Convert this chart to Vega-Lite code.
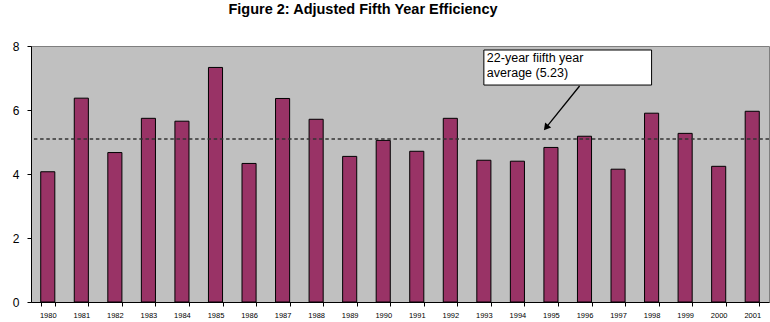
{
  "$schema": "https://vega.github.io/schema/vega-lite/v6.json",
  "autosize": "none",
  "width": 738,
  "height": 256,
  "padding": {"left": 31, "top": 46, "right": 1, "bottom": 20},
  "background": "white",
  "title": {
    "text": "Figure 2: Adjusted Fifth Year Efficiency",
    "font": "Liberation Sans",
    "fontSize": 14.5,
    "fontWeight": "bold",
    "color": "black",
    "anchor": "middle",
    "dx": -37,
    "offset": 23
  },
  "config": {
    "view": {"fill": "#C0C0C0", "stroke": "#7F7F7F", "strokeWidth": 1},
    "font": "Liberation Sans",
    "axisX": {
      "labelAngle": 0,
      "labelFontSize": 7.5,
      "labelColor": "black",
      "labelPadding": 5,
      "labelOverlap": false,
      "domainColor": "black",
      "tickColor": "black",
      "tickSize": 4,
      "tickBand": "extent",
      "grid": false
    },
    "axisY": {
      "grid": false,
      "tickCount": 8,
      "labelOverlap": false,
      "labelFontSize": 12,
      "labelColor": "black",
      "labelPadding": 8,
      "domainColor": "black",
      "tickColor": "black",
      "tickSize": 4
    }
  },
  "datasets": {
    "bars": [
      {"year": "1980", "value": 4.07},
      {"year": "1981", "value": 6.37},
      {"year": "1982", "value": 4.67},
      {"year": "1983", "value": 5.74},
      {"year": "1984", "value": 5.65},
      {"year": "1985", "value": 7.33},
      {"year": "1986", "value": 4.33},
      {"year": "1987", "value": 6.36},
      {"year": "1988", "value": 5.71},
      {"year": "1989", "value": 4.55},
      {"year": "1990", "value": 5.05},
      {"year": "1991", "value": 4.71},
      {"year": "1992", "value": 5.74},
      {"year": "1993", "value": 4.43},
      {"year": "1994", "value": 4.4},
      {"year": "1995", "value": 4.83},
      {"year": "1996", "value": 5.18},
      {"year": "1997", "value": 4.15},
      {"year": "1998", "value": 5.9},
      {"year": "1999", "value": 5.27},
      {"year": "2000", "value": 4.24},
      {"year": "2001", "value": 5.96}
    ],
    "avg": [{"y": 5.09}],
    "box": [{"from": "1993", "to": "1998", "y0": 6.78, "y1": 7.875}],
    "arrowLine": [
      {"year": "1996", "y": 6.75, "o": 0},
      {"year": "1995", "y": 5.45, "o": 1}
    ],
    "arrowHead": [{"year": "1995", "y": 5.45, "angle": 218.8}],
    "label": [
      {"year": "1993", "y": 7.5, "t": "22-year fiifth year"},
      {"year": "1993", "y": 7.03, "t": "average (5.23)"}
    ]
  },
  "layer": [
    {
      "data": {"name": "bars"},
      "mark": {"type": "bar", "fill": "#993366", "stroke": "black", "strokeWidth": 1},
      "encoding": {
        "x": {
          "field": "year",
          "type": "ordinal",
          "title": null,
          "scale": {"paddingInner": 0.58, "paddingOuter": 0.29},
          "axis": {"tickBand": "extent", "labelAngle": 0}
        },
        "y": {
          "field": "value",
          "type": "quantitative",
          "title": null,
          "scale": {"domain": [0, 8], "nice": false},
          "axis": {"values": [0, 1, 2, 3, 4, 5, 6, 7, 8], "labelOverlap": false}
        }
      }
    },
    {
      "data": {"name": "avg"},
      "mark": {"type": "rule", "stroke": "#333333", "strokeWidth": 1.5, "strokeDash": [3.5, 2.7]},
      "encoding": {
        "y": {"field": "y", "type": "quantitative", "title": null}
      }
    },
    {
      "data": {"name": "box"},
      "mark": {"type": "rect", "fill": "white", "stroke": "black", "strokeWidth": 1},
      "encoding": {
        "x": {"field": "from", "type": "ordinal", "bandPosition": 0.5, "title": null},
        "x2": {"field": "to"},
        "y": {"field": "y0", "type": "quantitative", "title": null},
        "y2": {"field": "y1"}
      }
    },
    {
      "data": {"name": "label"},
      "mark": {"type": "text", "align": "left", "baseline": "alphabetic", "dx": 3, "fontSize": 12.5, "color": "black", "font": "Liberation Sans"},
      "encoding": {
        "x": {"field": "year", "type": "ordinal", "bandPosition": 0.5, "title": null},
        "y": {"field": "y", "type": "quantitative", "title": null},
        "text": {"field": "t"}
      }
    },
    {
      "data": {"name": "arrowLine"},
      "mark": {"type": "line", "stroke": "black", "strokeWidth": 1.3},
      "encoding": {
        "x": {"field": "year", "type": "ordinal", "bandPosition": 0.15, "title": null},
        "y": {"field": "y", "type": "quantitative", "title": null},
        "order": {"field": "o"}
      }
    },
    {
      "data": {"name": "arrowHead"},
      "mark": {"type": "point", "shape": "triangle-up", "filled": true, "fill": "black", "stroke": null, "size": 60, "opacity": 1},
      "encoding": {
        "x": {"field": "year", "type": "ordinal", "bandPosition": 0.15, "title": null},
        "y": {"field": "y", "type": "quantitative", "title": null},
        "angle": {"field": "angle", "type": "quantitative", "scale": null}
      }
    }
  ]
}
